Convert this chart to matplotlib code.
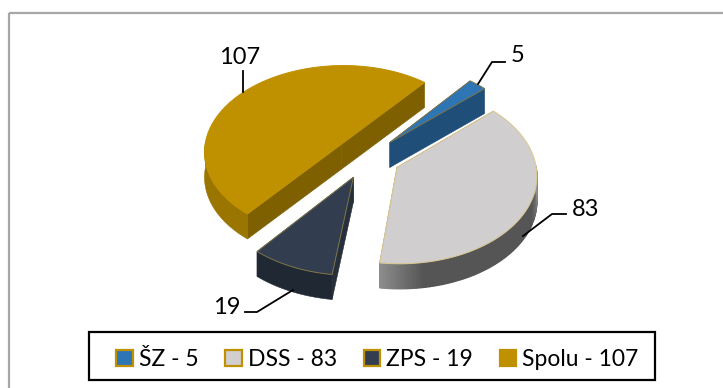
import numpy as np
import matplotlib
matplotlib.use("Agg")
import matplotlib.pyplot as plt
from matplotlib.patches import Patch, Rectangle

names = ["ŠZ", "DSS", "ZPS", "Spolu"]
values = [5, 83, 19, 107]
top_colors = ["#2E75B6", "#D0CECE", "#323E4F", "#BF9000"]
cut_colors = ["#1F4E79", "#5A5A5A", "#262F3B", "#7F6000"]
wall_colors = ["#1F4E79", "#555555", "#1F2833", "#9A7500"]
leader_paths = [[(478, 84), (492, 62), (505, 62)], [(523, 236), (552, 214), (566, 214)],
                [(293, 290), (257, 312), (245, 312)], [(243, 92), (243, 71)]]
label_pos = [(518, 55), (586, 210), (227, 308), (240, 57)]

W, H = 723, 388
CX, CY, RX, RY, DEPTH, EXPL, START, PERSP = 367, 157.5, 138, 87, 25, 0.243, 50.5, 0.08

plt.rcParams["font.family"] = ["Lato", "DejaVu Sans"]
fig = plt.figure(figsize=(W / 100, H / 100), dpi=100)
ax = fig.add_axes([0, 0, 1, 1])
ax.set_xlim(0, W)
ax.set_ylim(H, 0)
ax.axis("off")

ax.add_patch(Rectangle((8.5, 12.5), W + 20, H + 20, fill=False, ec="#A6A6A6", lw=1.6))


def project(u, v):
    s = 1 / (1 + PERSP * v)
    return CX + RX * u * s, CY - RY * v * s


order = [3, 2, 0, 1]
total = sum(values)
spans = []
a = START
for v in values:
    b = a - 360 * v / total
    spans.append((a, b))
    a = b

for z, i in enumerate(order):
    a0, a1 = spans[i]
    mid = np.radians((a0 + a1) / 2)
    ou, ov = EXPL * np.cos(mid), EXPL * np.sin(mid)
    cx, cy = project(ou, ov)
    t = np.radians(np.linspace(a0, a1, 120))
    x, y = project(ou + np.cos(t), ov + np.sin(t))

    for k in (0, -1):
        ax.fill([cx, x[k], x[k], cx], [cy, y[k], y[k] + DEPTH, cy + DEPTH],
                color=cut_colors[i], lw=0.4, zorder=2 + z)

    front = np.where(np.sin(t) < 0.03)[0]
    if i == 1:
        # the grey wall fades at both of its ends
        front = front[::-1]
        for j in range(len(front) - 1):
            p, q = front[j], front[j + 1]
            f = j / (len(front) - 2)
            g = 0x55
            if f < 0.17:
                g = 0x8C + (0x55 - 0x8C) * f / 0.17
            if f > 0.78:
                g = 0x55 + (0x90 - 0x55) * (f - 0.78) / 0.22
            col = "#{0:02x}{0:02x}{0:02x}".format(int(g))
            ax.fill([x[p], x[q], x[q], x[p]], [y[p], y[q], y[q] + DEPTH, y[p] + DEPTH],
                    color=col, lw=0.9, zorder=2 + z)
    elif len(front) > 1:
        fx, fy = x[front], y[front]
        ax.fill(np.r_[fx, fx[::-1]], np.r_[fy, fy[::-1] + DEPTH],
                color=wall_colors[i], lw=0.4, zorder=2 + z)

    edge = {1: "#DCC88F", 3: top_colors[3]}.get(i, "#7D7446")
    ax.fill(np.r_[cx, x], np.r_[cy, y], facecolor=top_colors[i], edgecolor=edge,
            lw=0.7, zorder=2.5 + z)

for i in range(len(values)):
    path = np.array(leader_paths[i])
    ax.plot(path[:, 0], path[:, 1], color="black", lw=1.3, zorder=10, solid_joinstyle="miter")
    ax.text(*label_pos[i], str(values[i]), fontsize=17, ha="center", va="center", zorder=11)

ax.add_patch(Rectangle((88.5, 332), 566.5, 48, fc="white", ec="black", lw=1.6, zorder=12))
handles = [Patch(facecolor=c, edgecolor="#BF9000", lw=1.6) for c in top_colors]
labels = [f"{n} - {v}" for n, v in zip(names, values)]
leg = ax.legend(handles, labels, loc="center", bbox_to_anchor=(377.5 / W, 1 - 359.5 / H),
                ncols=4, fontsize=16.5, frameon=False, handlelength=0.72, handleheight=0.7,
                handletextpad=0.28, columnspacing=1.15, borderpad=0, borderaxespad=0)
leg.set_zorder(13)

fig.savefig("out.png", dpi=100)
